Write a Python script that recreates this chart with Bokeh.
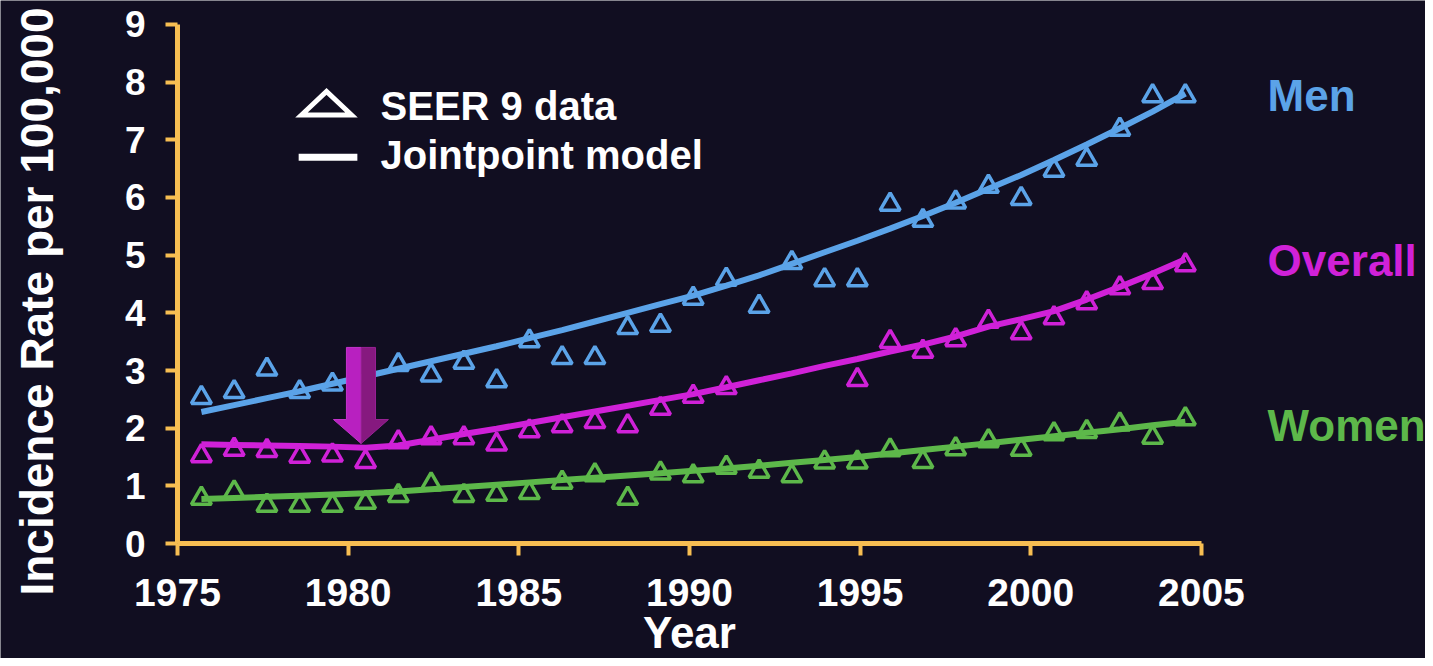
import math
from bokeh.plotting import figure
from bokeh.models import Label, PolyAnnotation, FixedTicker, Range1d, Arrow
from bokeh.embed import file_html
from bokeh.resources import INLINE

NAN = float("nan")

# ---- data ----
# x position of each SEER point
year_pos = [1975.70, 1976.66, 1977.62, 1978.58, 1979.54, 1980.51, 1981.47, 1982.43,
            1983.39, 1984.35, 1985.31, 1986.27, 1987.23, 1988.19, 1989.15, 1990.11,
            1991.08, 1992.04, 1993.00, 1993.96, 1994.92, 1995.88, 1996.84, 1997.80,
            1998.76, 1999.72, 2000.68, 2001.64, 2002.61, 2003.57, 2004.53]

men_seer = [2.53, 2.63, 3.02, 2.63, 2.76, NAN, 3.10, 2.92, 3.14, 2.82, 3.51, 3.22, 3.22,
            3.74, 3.78, 4.25, 4.58, 4.11, 4.87, 4.57, 4.57, 5.88, 5.60, 5.92, 6.19, 5.98,
            6.47, 6.66, 7.18, 7.76, 7.76]
overall_seer = [1.52, 1.63, 1.61, 1.51, 1.53, 1.42, 1.76, 1.83, 1.83, 1.72, 1.95, 2.04, 2.11,
                2.04, 2.34, 2.55, 2.70, NAN, NAN, NAN, 2.84, 3.50, 3.33, 3.53, 3.85, 3.65,
                3.91, 4.17, 4.43, 4.52, 4.83]
women_seer = [0.78, 0.89, 0.66, 0.66, 0.66, 0.71, 0.83, 1.03, 0.83, 0.85, 0.88, 1.06, 1.19,
              0.78, 1.22, 1.17, 1.32, 1.25, 1.17, 1.41, 1.41, 1.62, 1.42, 1.64, 1.78, 1.63,
              1.90, 1.94, 2.07, 1.84, 2.16]

men_model = [2.28, 2.40, 2.52, 2.64, 2.77, 2.90, 3.03, 3.16, 3.29, 3.42, 3.56, 3.70, 3.85,
             4.00, 4.15, 4.30, 4.47, 4.65, 4.85, 5.05, 5.25, 5.46, 5.68, 5.91, 6.15, 6.39,
             6.65, 6.92, 7.20, 7.49, 7.80]
overall_model = [1.72, 1.71, 1.70, 1.69, 1.68, 1.66, 1.70, 1.80, 1.90, 1.99, 2.09, 2.19, 2.29,
                 2.39, 2.49, 2.59, 2.71, 2.83, 2.95, 3.08, 3.20, 3.33, 3.45, 3.59, 3.76, 3.89,
                 4.03, 4.23, 4.45, 4.68, 4.93]
women_model = [0.77, 0.79, 0.81, 0.83, 0.85, 0.87, 0.90, 0.94, 0.98, 1.02, 1.06, 1.10, 1.14,
               1.18, 1.22, 1.26, 1.30, 1.35, 1.40, 1.45, 1.50, 1.56, 1.62, 1.68, 1.74, 1.80,
               1.86, 1.92, 1.98, 2.05, 2.11]

series_names = ["Men", "Overall", "Women"]
x_ticks = [1975, 1980, 1985, 1990, 1995, 2000, 2005]
y_ticks = [0, 1, 2, 3, 4, 5, 6, 7, 8, 9]

# ---- styles ----
BG = "#110e21"
AXIS = "#F7BE52"
FONT = "Liberation Sans"
COLORS = {"Men": "#5BA3E8", "Overall": "#D021D8", "Women": "#5DB84A"}
LABEL_Y = {"Men": 7.777, "Overall": 4.916, "Women": 2.046}
LABEL_X = 2006.94

p = figure(width=1425, height=658, output_backend="svg", toolbar_location=None,
           x_range=Range1d(1969.814, 2011.566), y_range=Range1d(-1.994, 9.416),
           min_border=0)
p.background_fill_color = BG
p.border_fill_color = BG
p.outline_line_color = None
p.grid.visible = False

for ax, ticks, size, bounds in ((p.xaxis, x_ticks, "39px", (1975, 2005)),
                                (p.yaxis, y_ticks, "37px", (0, 9))):
    ax.ticker = FixedTicker(ticks=ticks)
    ax.bounds = bounds
    ax.axis_line_color = AXIS
    ax.axis_line_width = 5
    ax.major_tick_line_color = AXIS
    ax.major_tick_line_width = 4
    ax.major_tick_out = 12
    ax.major_tick_in = 0
    ax.minor_tick_line_color = None
    ax.major_label_text_color = "white"
    ax.major_label_text_font = FONT
    ax.major_label_text_font_style = "bold"
    ax.major_label_text_font_size = size
p.xaxis.fixed_location = 0
p.yaxis.fixed_location = 1975
p.xaxis.major_label_standoff = 23
p.yaxis.major_label_standoff = 20

seer = {"Men": men_seer, "Overall": overall_seer, "Women": women_seer}
model = {"Men": men_model, "Overall": overall_model, "Women": women_model}

for name in series_names:
    c = COLORS[name]
    p.line(year_pos, model[name], line_color=c, line_width=6)
    p.scatter(year_pos, seer[name], marker="triangle", size=20, fill_color=None,
              line_color=c, line_width=3.5)
    p.add_layout(Label(x=LABEL_X, y=LABEL_Y[name], text=name, text_color=c,
                       text_font=FONT, text_font_style="bold", text_font_size="44px",
                       text_align="left", text_baseline="middle"))

# ---- join-point arrow (annotation) ----
AX = [1979.57, 1979.95, 1980.38, 1980.80, 1981.18]
AY = [1.734, 2.15, 3.40]
p.add_layout(PolyAnnotation(xs=[AX[1], AX[2], AX[2], AX[0], AX[1]],
                            ys=[AY[2], AY[2], AY[0], AY[1], AY[1]],
                            fill_color="#B820C0", fill_alpha=1.0,
                            line_color="#C434CC", line_alpha=1.0, line_width=1))
p.add_layout(PolyAnnotation(xs=[AX[2], AX[3], AX[3], AX[4], AX[2]],
                            ys=[AY[2], AY[2], AY[1], AY[1], AY[0]],
                            fill_color="#86197F", fill_alpha=1.0,
                            line_color="#9A2296", line_alpha=1.0, line_width=1))

# ---- legend (hand-drawn key) ----
p.add_layout(PolyAnnotation(xs=[1978.633, 1979.366, 1980.098], ys=[7.43, 7.838, 7.43],
                            fill_color=None, fill_alpha=0, line_color="white",
                            line_alpha=1.0, line_width=5, line_join="miter"))
p.add_layout(Arrow(x_start=1978.55, y_start=6.70, x_end=1980.27, y_end=6.70,
                   start=None, end=None, line_color="white", line_width=7))
for txt, ly in (("SEER 9 data", 7.58), ("Jointpoint model", 6.742)):
    p.add_layout(Label(x=1980.95, y=ly, text=txt, text_color="white", text_font=FONT,
                       text_font_style="bold", text_font_size="40px",
                       text_align="left", text_baseline="middle"))

# ---- axis titles ----
p.add_layout(Label(x=1970.87, y=4.196, text="Incidence Rate per 100,000", angle=math.pi / 2,
                   text_color="white", text_font=FONT, text_font_style="bold",
                   text_font_size="46px", text_align="center", text_baseline="middle"))
p.add_layout(Label(x=1990, y=-1.543, text="Year", text_color="white", text_font=FONT,
                   text_font_style="bold", text_font_size="44px", text_align="center",
                   text_baseline="middle"))

open("out.html", "w").write(file_html(p, INLINE))
